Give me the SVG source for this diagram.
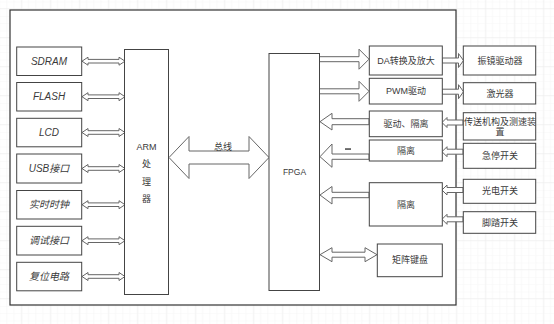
<svg xmlns="http://www.w3.org/2000/svg" width="554" height="324" viewBox="0 0 554 324">
<style>
.box{fill:#fff;stroke:#444;stroke-width:1}
.ar{fill:#fff;stroke:#666;stroke-width:1;stroke-linejoin:miter}
text{font-family:"Liberation Sans","Noto Sans CJK SC",sans-serif;fill:#3a3a3a;text-anchor:middle}
.l{font-size:10px;font-style:italic}
.r{font-size:9px}
</style>
<defs>
<pattern id="minor" width="7.25" height="7.25" patternUnits="userSpaceOnUse" x="21.3" y="8">
<path d="M0 0V7.25M0 0H7.25" fill="none" stroke="#f5f5f5" stroke-width="1"/>
</pattern>
<pattern id="major" width="29" height="29" patternUnits="userSpaceOnUse" x="21.3" y="8">
<rect width="29" height="29" fill="url(#minor)"/>
<path d="M0 0V29M0 0H29" fill="none" stroke="#ebebeb" stroke-width="1"/>
</pattern>
<polygon id="la" points="82,0 88,-4 88,-1.8 119,-1.8 119,-4 125,0 119,4 119,1.8 88,1.8 88,4"/>
<polygon id="rb" points="319,-2.5 359,-2.5 359,-10 369,0 359,10 359,2.5 319,2.5"/>
<polygon id="rs" points="442,-2.5 458.5,-2.5 458.5,-7 463.5,0 458.5,7 458.5,2.5 442,2.5"/>
<polygon id="ls" points="463,-2.5 447,-2.5 447,-5 442,0 447,5 447,2.5 463,2.5"/>
</defs>
<rect width="554" height="324" fill="#fff"/>
<rect width="554" height="324" fill="url(#major)"/>
<rect x="10" y="10" width="446" height="295" fill="#fff" stroke="#333" stroke-width="1.2"/>

<g id="connectors">
<use href="#la" class="ar" transform="translate(0,61.2)"/>
<use href="#la" class="ar" transform="translate(0,96.7)"/>
<use href="#la" class="ar" transform="translate(0,132.5)"/>
<use href="#la" class="ar" transform="translate(0,168.5)"/>
<use href="#la" class="ar" transform="translate(0,204.7)"/>
<use href="#la" class="ar" transform="translate(0,240.7)"/>
<use href="#la" class="ar" transform="translate(0,276.5)"/>
<polygon class="ar" points="169,157.5 189,136.5 189,151 249,151 249,136.5 269,157.5 249,178.5 249,164 189,164 189,178.5"/>
<use href="#rb" class="ar" transform="translate(0,59.2)"/>
<use href="#rb" class="ar" transform="translate(0,91.3)"/>
<polygon class="ar" points="369,118.7 332,118.7 332,113.3 320,121.7 332,130 332,124.7 369,124.7"/>
<polygon class="ar" points="369,154 332,154 332,144 320,156.7 332,167.3 332,159.3 369,159.3"/>
<rect x="345" y="148.3" width="6" height="1.5" fill="#444"/>
<polygon class="ar" points="369,192.3 332,192.3 332,186.5 320,195 332,204 332,197.7 369,197.7"/>
<polygon class="ar" points="320,254.7 332,247.7 332,252.2 365,252.2 365,247.7 377,254.7 365,261.7 365,257.2 332,257.2 332,261.7"/>
<use href="#rs" class="ar" transform="translate(0,60.5)"/>
<use href="#rs" class="ar" transform="translate(0,91.7)"/>
<use href="#ls" class="ar" transform="translate(0,122.5)"/>
<use href="#ls" class="ar" transform="translate(0,151.7)"/>
<use href="#ls" class="ar" transform="translate(0,190)"/>
<use href="#ls" class="ar" transform="translate(0,219.3)"/>
<text x="223" y="150" class="r">总线</text>
</g>

<g id="sdram"><rect class="box" x="16.7" y="47" width="65" height="28.5"/><text class="l" x="49" y="64.7">SDRAM</text></g>
<g id="flash"><rect class="box" x="16.7" y="82.5" width="65" height="28.5"/><text class="l" x="49" y="100.2">FLASH</text></g>
<g id="lcd"><rect class="box" x="16.7" y="118.3" width="65" height="28.5"/><text class="l" x="49" y="136">LCD</text></g>
<g id="usb"><rect class="box" x="16.7" y="154" width="65" height="29"/><text class="l" x="49" y="172">USB接口</text></g>
<g id="rtc"><rect class="box" x="16.7" y="190.5" width="65" height="28.5"/><text class="l" x="49" y="208.2">实时时钟</text></g>
<g id="debug"><rect class="box" x="16.7" y="226.3" width="65" height="28.7"/><text class="l" x="49" y="244.2">调试接口</text></g>
<g id="reset"><rect class="box" x="16.7" y="262.3" width="65" height="28.5"/><text class="l" x="49" y="280">复位电路</text></g>

<g id="arm"><rect class="box" x="124.5" y="49.5" width="44" height="245"/>
<text class="r" x="146.5" y="150.2">ARM</text><text class="r" x="146.5" y="166.5">处</text><text class="r" x="146.5" y="185">理</text><text class="r" x="146.5" y="201.5">器</text></g>

<g id="fpga"><rect class="box" x="269" y="53.5" width="50.5" height="237"/><text x="294.5" y="175" style="font-size:8.5px">FPGA</text></g>

<g id="da"><rect class="box" x="369.3" y="46" width="73" height="29"/><text class="r" x="406" y="63.5">DA转换及放大</text></g>
<g id="pwm"><rect class="box" x="369.3" y="78.3" width="73" height="25.7"/><text class="r" x="406" y="94.2">PWM驱动</text></g>
<g id="drviso"><rect class="box" x="369.3" y="111" width="73" height="25.7"/><text class="r" x="406" y="127">驱动、隔离</text></g>
<g id="iso1"><rect class="box" x="369.3" y="140" width="73" height="21"/><text class="r" x="406" y="153.7">隔离</text></g>
<g id="iso2"><rect class="box" x="369.3" y="182.7" width="73" height="43.3"/><text class="r" x="406" y="207.5">隔离</text></g>
<g id="keypad"><rect class="box" x="377.3" y="244" width="65" height="32.7"/><text class="r" x="410" y="263.3">矩阵键盘</text></g>

<g id="galvo"><rect class="box" x="463.3" y="46" width="72.4" height="29"/><text class="r" x="500" y="63.5">振镜驱动器</text></g>
<g id="laser"><rect class="box" x="463.3" y="82.7" width="72.4" height="21.3"/><text class="r" x="500" y="96.5">激光器</text></g>
<g id="conveyor"><rect class="box" x="463.3" y="112.7" width="72.4" height="27.3"/><text class="r" x="500" y="125.2">传送机构及测速装</text><text class="r" x="500" y="135.3">置</text></g>
<g id="estop"><rect class="box" x="463.3" y="143.3" width="72.4" height="25"/><text class="r" x="500" y="158.8">急停开关</text></g>
<g id="photo"><rect class="box" x="463.3" y="179.3" width="72.4" height="24"/><text class="r" x="500" y="194.3">光电开关</text></g>
<g id="pedal"><rect class="box" x="463.3" y="211.7" width="72.4" height="21.6"/><text class="r" x="500" y="225.5">脚踏开关</text></g>
</svg>
